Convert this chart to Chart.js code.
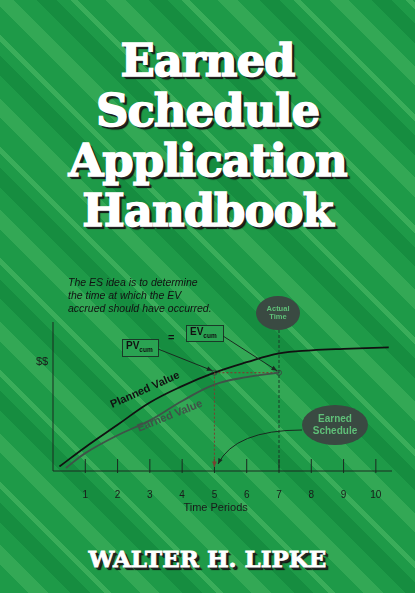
<!DOCTYPE html>
<html><head><meta charset="utf-8">
<script src="https://cdn.jsdelivr.net/npm/chart.js@4"></script>
<style>
html,body{margin:0;padding:0;width:415px;height:593px;overflow:hidden}
body{position:relative;background:#1e9a48;
background-image:repeating-linear-gradient(45deg,#1e9a48 0 20px,#33a855 20px 34px,#1e9a48 34px 50px,#168d40 50px 64px,#1e9a48 64px 74px,#3aad5a 74px 79px);}
#c{position:absolute;left:0;top:0}
.t{position:absolute;left:0;width:415px;text-align:center;color:#fff;font-family:"DejaVu Serif",serif;font-weight:bold;
-webkit-text-stroke:1.5px #fff;
text-shadow:1px 1px 0 #222,2px 2px 0 #222,3px 3px 1px #111;}
#title{top:36px;font-size:45px;line-height:50px;letter-spacing:-1px}
#author{top:545px;font-size:23px;-webkit-text-stroke:0.8px #fff}
</style></head><body>
<div id="title" class="t">Earned<br>Schedule<br>Application<br>Handbook</div>
<div id="author" class="t">WALTER H. LIPKE</div>
<canvas id="c" width="415" height="593"></canvas>
<script>
const periods = [1,2,3,4,5,6,7,8,9,10];
const pvTime = [0.2,1,2,3,4,5,6,7,8,9,10.4];
const pvValue = [3,16,31,46,57,66,73,79,81,82,83];
const evTime = [0.4,1,2,3,4,5,6,7];
const evValue = [2,12,24,34,47,58,63,66];
const esTime = [5,7];
const esValue = [66,66];

const ctxC = document.getElementById("c").getContext("2d");

function arrow(ctx,x1,y1,x2,y2,cx,cy){
  ctx.beginPath();ctx.moveTo(x1,y1);
  if(cx!==undefined) ctx.quadraticCurveTo(cx,cy,x2,y2); else ctx.lineTo(x2,y2);
  ctx.stroke();
  const sx=cx!==undefined?cx:x1, sy=cy!==undefined?cy:y1;
  const a=Math.atan2(y2-sy,x2-sx);
  ctx.beginPath();ctx.moveTo(x2,y2);
  ctx.lineTo(x2-6*Math.cos(a-0.4),y2-6*Math.sin(a-0.4));
  ctx.lineTo(x2-6*Math.cos(a+0.4),y2-6*Math.sin(a+0.4));
  ctx.closePath();ctx.fill();
}

/* ejes y anotaciones */
const extras = {
  id:"extras",
  afterDraw(chart){
    const ctx=chart.ctx, x=chart.scales.x, y=chart.scales.y, a=chart.chartArea;
    ctx.save();
    ctx.strokeStyle="#1a2a20";ctx.lineWidth=1;
    ctx.beginPath();ctx.moveTo(a.left,a.top);ctx.lineTo(a.left,a.bottom);ctx.lineTo(a.right,a.bottom);ctx.stroke();
    ctx.fillStyle="#1a1a1a";ctx.font="10px Liberation Sans";ctx.textAlign="center";ctx.textBaseline="middle";
    periods.forEach(p=>{
      const px=x.getPixelForValue(p);
      ctx.beginPath();ctx.moveTo(px,a.bottom-12);ctx.lineTo(px,a.bottom+2);ctx.stroke();
      ctx.fillText(p,px,a.bottom+24);
    });
    ctx.font="11px Liberation Sans";
    ctx.fillText("Time Periods",(x.getPixelForValue(5)+x.getPixelForValue(6))/2-15,a.bottom+37);
    ctx.fillText("$$",42,362);

    const p5x=x.getPixelForValue(5), p7x=x.getPixelForValue(7), py=y.getPixelForValue(66);
    ctx.strokeStyle="#7a4030";ctx.fillStyle="#7a4030";ctx.setLineDash([2,2]);
    ctx.beginPath();ctx.moveTo(p5x,py);ctx.lineTo(p5x,a.bottom-8);ctx.stroke();
    ctx.setLineDash([]);arrow(ctx,p5x,a.bottom-12,p5x,a.bottom-4);
    ctx.strokeStyle="#1a3a28";ctx.setLineDash([3,2]);
    ctx.beginPath();ctx.moveTo(p7x,330);ctx.lineTo(p7x,a.bottom);ctx.stroke();
    ctx.setLineDash([]);

    ctx.fillStyle="#111";ctx.font="italic 10.5px Liberation Sans";ctx.textAlign="left";
    ["The ES idea is to determine","the time at which the EV","accrued should have occurred."]
      .forEach((t,i)=>ctx.fillText(t,68,283+i*13));

    function box(bx,by,w,h,main){
      ctx.fillStyle="#2aa352";ctx.fillRect(bx,by,w,h);
      ctx.strokeStyle="#1a3a28";ctx.strokeRect(bx+0.5,by+0.5,w,h);
      ctx.fillStyle="#111";ctx.font="bold 10px Liberation Sans";ctx.textAlign="left";
      ctx.fillText(main,bx+4,by+h/2-1);
      const mw=ctx.measureText(main).width;
      ctx.font="bold 6.5px Liberation Sans";ctx.fillText("cum",bx+4+mw,by+h/2+3);
    }
    box(122,339,36,17,"PV");box(186,325,37,16,"EV");
    ctx.font="bold 11px Liberation Sans";ctx.fillStyle="#111";ctx.fillText("=",168,338);
    ctx.strokeStyle="#1a2a20";ctx.fillStyle="#1a2a20";
    arrow(ctx,158,349,p5x-2,py-2);arrow(ctx,223,336,p7x-2,py-2);

    function ell(cx,cy,rx,ry,lines,fs){
      ctx.fillStyle="#3a4a42";ctx.beginPath();ctx.ellipse(cx,cy,rx,ry,0,0,Math.PI*2);ctx.fill();
      ctx.fillStyle="#5fbf78";ctx.font="bold "+fs+"px Liberation Sans";ctx.textAlign="center";
      lines.forEach((t,i)=>ctx.fillText(t,cx,cy+(i-(lines.length-1)/2)*fs*1.15));
    }
    ell(278,313,22,17,["Actual","Time"],7.5);
    ell(335,425,33,20,["Earned","Schedule"],10);
    ctx.strokeStyle="#1a2a20";ctx.fillStyle="#1a2a20";
    arrow(ctx,302,430,218,464,235,430);

    ctx.save();ctx.translate(145,390);ctx.rotate(-0.42);
    ctx.font="bold 11px Liberation Sans";ctx.fillStyle="#111";ctx.fillText("Planned Value",0,0);ctx.restore();
    ctx.save();ctx.translate(170,416);ctx.rotate(-0.38);
    ctx.font="bold 11px Liberation Sans";ctx.fillStyle="#3f5248";ctx.fillText("Earned Value",0,0);ctx.restore();
    ctx.restore();
  }
};

new Chart(ctxC,{
  type:"line",
  data:{datasets:[
    {data:pvTime.map((t,i)=>({x:t,y:pvValue[i]})),borderColor:"#111",borderWidth:1.8,tension:0.4,pointRadius:0},
    {data:evTime.map((t,i)=>({x:t,y:evValue[i]})),borderColor:"#3f5248",borderWidth:1.8,tension:0.4,pointRadius:0},
    {data:esTime.map((t,i)=>({x:t,y:esValue[i]})),borderColor:"#7a4030",borderWidth:1.2,borderDash:[2,2],
     pointRadius:2.5,pointBorderColor:"#3a4a42",pointBackgroundColor:"rgba(0,0,0,0)",pointBorderWidth:1}
  ]},
  options:{
    responsive:false,animation:false,
    layout:{padding:{left:53,right:23,top:322,bottom:122}},
    plugins:{legend:{display:false},tooltip:{enabled:false}},
    scales:{
      x:{type:"linear",min:0,max:10.5,display:false},
      y:{min:0,max:100,display:false}
    }
  },
  plugins:[extras]
});
</script>
</body></html>
